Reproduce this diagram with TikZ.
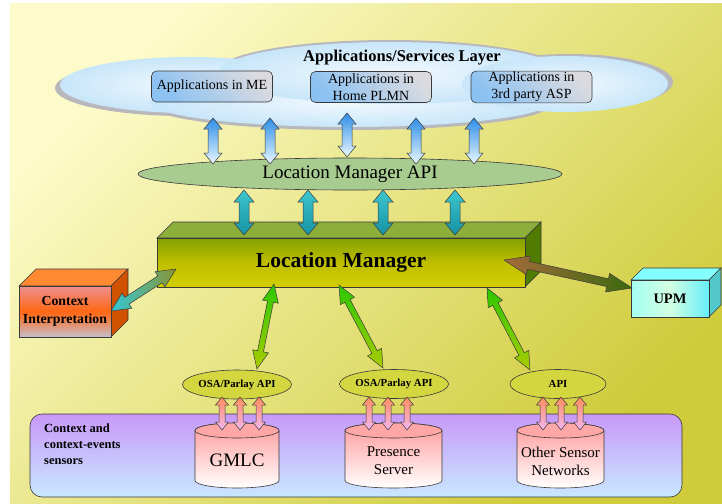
\documentclass[tikz,border=0pt]{standalone}
\usepackage{fontspec}
\setmainfont{Liberation Serif}
\usetikzlibrary{calc,shapes.geometric}

\definecolor{bgLight}{HTML}{FDFBC9}
\definecolor{bgDark}{HTML}{CFCB3A}
\definecolor{cloudIn}{HTML}{F2F9FE}
\definecolor{cloudOut}{HTML}{C8E6FA}
\definecolor{cloudGrey}{HTML}{B8B8BC}
\definecolor{appBlue}{HTML}{8CC2F2}
\definecolor{appGrey}{HTML}{DADADF}
\definecolor{lineDark}{HTML}{3A3A3A}
\definecolor{blueTop}{HTML}{2E8EE8}
\definecolor{blueBot}{HTML}{EAF8FF}
\definecolor{apiGreen}{HTML}{A8CB90}
\definecolor{tealTop}{HTML}{3EC6CE}
\definecolor{tealBot}{HTML}{1792A4}
\definecolor{lmTop}{HTML}{8CAE3A}
\definecolor{lmSide}{HTML}{507C02}
\definecolor{lmFrontT}{HTML}{82A000}
\definecolor{lmFrontM}{HTML}{C0BF00}
\definecolor{lmFrontB}{HTML}{D2CE00}
\definecolor{ciTop}{HTML}{FF8A32}
\definecolor{ciSide}{HTML}{D05200}
\definecolor{ciFrontT}{HTML}{EE9090}
\definecolor{ciFrontM}{HTML}{FF6612}
\definecolor{ciFrontB}{HTML}{C6BECA}
\definecolor{upmTop}{HTML}{84FFFF}
\definecolor{upmSide}{HTML}{52C8CA}
\definecolor{upmFrontL}{HTML}{A4FFF2}
\definecolor{upmFrontM}{HTML}{D2FFE2}
\definecolor{upmFrontR}{HTML}{66EEFA}
\definecolor{brownEnd}{HTML}{A46A3A}
\definecolor{oliveEnd}{HTML}{3C6A10}
\definecolor{ciArrowA}{HTML}{34C8D4}
\definecolor{ciArrowB}{HTML}{8A9434}
\definecolor{greenTop}{HTML}{2CC800}
\definecolor{greenBot}{HTML}{AACC00}
\definecolor{osaFill}{HTML}{D4D640}
\definecolor{panelTop}{HTML}{C898F8}
\definecolor{panelBot}{HTML}{C8E8FF}
\definecolor{drumTop}{HTML}{FF9A9A}
\definecolor{drumBot}{HTML}{FFFFFF}
\definecolor{drumCap}{HTML}{FFA6A6}
\definecolor{pinkTop}{HTML}{FF8E5C}
\definecolor{pinkBot}{HTML}{F2B6F2}

\newcommand\setfs[2]{\fontsize{#1}{#2}\selectfont}

% double-headed block arrow between two named points
% #1,#2 ends; #3 half shaft width; #4 half head width; #5 head length; #6 style
\newcommand\blockarrow[6]{%
  \path[#6] (#1)
    -- ($(#1)!#5!(#2)!#4!90:(#2)$)
    -- ($(#1)!#5!(#2)!#3!90:(#2)$)
    -- ($(#2)!#5!(#1)!#3!-90:(#1)$)
    -- ($(#2)!#5!(#1)!#4!-90:(#1)$)
    -- (#2)
    -- ($(#2)!#5!(#1)!#4!90:(#1)$)
    -- ($(#2)!#5!(#1)!#3!90:(#1)$)
    -- ($(#1)!#5!(#2)!#3!-90:(#2)$)
    -- ($(#1)!#5!(#2)!#4!-90:(#2)$)
    -- cycle;}

% database drum: #1 centre x, #2 x radius
\newcommand\drum[2]{%
  \path[draw=lineDark, line width=0.6pt, top color=drumTop, bottom color=drumBot]
    ({#1-#2},430.5) -- ({#1-#2},480.5)
    arc[start angle=180, end angle=0, x radius=#2, y radius=7.5]
    -- ({#1+#2},430.5)
    arc[start angle=360, end angle=180, x radius=#2, y radius=7.5] -- cycle;
  \path[draw=lineDark, line width=0.6pt, fill=drumCap]
    (#1,430.5) ellipse[x radius=#2, y radius=7.5];}

\tikzset{
  cloudshadow/.style={fill=cloudGrey},
  cloudpart/.style={inner color=cloudIn, outer color=cloudOut},
  appbox/.style={draw=lineDark, line width=0.6pt, rounded corners=5pt,
    top color=appGrey, bottom color=appBlue, shading angle=-45,
    minimum width=121pt, minimum height=31pt, inner sep=1pt, align=center,
    font=\setfs{14}{17}},
  bluearrow/.style={draw=lineDark, line width=0.5pt, top color=blueTop, bottom color=blueBot},
  tealarrow/.style={draw=lineDark, line width=0.5pt, top color=tealTop, bottom color=tealBot},
  greenarrow/.style={draw=lineDark, line width=0.5pt, top color=greenTop, bottom color=greenBot},
  pinkarrow/.style={draw=lineDark, line width=0.5pt, top color=pinkTop, bottom color=pinkBot},
  facet/.style={draw=lineDark, line width=0.6pt},
  osa/.style={ellipse, draw=lineDark, line width=0.6pt, fill=osaFill,
    minimum width=96pt, minimum height=29pt, inner sep=0pt,
    font=\bfseries\setfs{10.8}{12}},
}

\begin{document}
\begin{tikzpicture}[x=1pt,y=-1pt]
\useasboundingbox (0,0) rectangle (722,503);

% backdrop
\path[top color=bgLight, bottom color=bgDark, shading angle=45] (10,4) rectangle (722,503);

% applications/services cloud
\path[cloudshadow] (185,88) ellipse[x radius=130, y radius=28];
\path[cloudshadow] (570,82) ellipse[x radius=103, y radius=28];
\path[cloudshadow] (390,71) ellipse[x radius=172, y radius=31];
\path[cloudshadow] (350,105) ellipse[x radius=200, y radius=25];
\path[cloudpart] (190,85) ellipse[x radius=130, y radius=28];
\path[cloudpart] (350,102) ellipse[x radius=200, y radius=25];
\path[cloudpart] (390,73) ellipse[x radius=172, y radius=31];
\path[cloudpart] (565,84) ellipse[x radius=103, y radius=28];

\node[font=\bfseries\setfs{16.5}{19}] (layer) at (402,58) {Applications/Services Layer};
\node[appbox] (appME) at (212,86.5) {Applications in ME};
\node[appbox] (appHome) at (371,87) {Applications in\\Home PLMN};
\node[appbox] (appASP) at (531.5,87) {Applications in\\3rd party ASP};

% location manager API
\node[ellipse, draw=lineDark, line width=0.6pt, fill=apiGreen, minimum width=424pt,
  minimum height=32pt, inner sep=0pt, font=\setfs{19}{21}] (lmapi) at (350,174) {Location Manager API};

\foreach \i/\x/\t/\b in {1/213/118/164, 2/270/118/164, 3/347/113/157, 4/416/118/164, 5/474/118/164}{
  \coordinate (cu\i) at (\x,\t);
  \coordinate (cl\i) at (\x,\b);
  \blockarrow{cu\i}{cl\i}{5pt}{9pt}{11pt}{bluearrow}
}

% location manager block
\path[facet, fill=lmTop] (157,238) -- (173,222) -- (541,222) -- (525,238) -- cycle;
\path[facet, fill=lmSide] (525,238) -- (541,222) -- (541,271) -- (525,287) -- cycle;
\node[facet, top color=lmFrontT, bottom color=lmFrontB, middle color=lmFrontM,
  minimum width=368pt, minimum height=49pt, inner sep=0pt,
  font=\bfseries\setfs{21.5}{23}] (lm) at (341,262.5) {Location Manager};

\foreach \i/\x in {1/244, 2/308, 3/383, 4/455}{
  \coordinate (au\i) at (\x,190);
  \coordinate (al\i) at (\x,235);
  \blockarrow{au\i}{al\i}{5pt}{10pt}{12pt}{tealarrow}
}

% context interpretation block
\path[facet, fill=ciTop] (19,286) -- (36,269) -- (128,269) -- (111,286) -- cycle;
\path[facet, fill=ciSide] (111,286) -- (128,269) -- (128,320) -- (111,337) -- cycle;
\node[facet, top color=ciFrontT, bottom color=ciFrontB, middle color=ciFrontM,
  minimum width=92pt, minimum height=51pt, inner sep=0pt, align=center,
  font=\bfseries\setfs{13.8}{18}] (ci) at (65,311.5) {Context\\Interpretation};

% UPM block
\path[facet, fill=upmTop] (631,280) -- (643,268) -- (721,268) -- (709,280) -- cycle;
\path[facet, fill=upmSide] (709,280) -- (721,268) -- (721,305) -- (709,317) -- cycle;
\node[facet, left color=upmFrontL, right color=upmFrontR, middle color=upmFrontM,
  minimum width=78pt, minimum height=37pt, inner sep=0pt,
  font=\bfseries\setfs{14.5}{16}] (upm) at (670,298.5) {UPM};

% side links
\coordinate (lmCi) at (176,269);
\coordinate (ciLm) at (111,311);
\blockarrow{ciLm}{lmCi}{4pt}{9pt}{19pt}{draw=lineDark, line width=0.5pt, left color=ciArrowA, right color=ciArrowB}
\coordinate (lmUpm) at (504,260);
\coordinate (upmLm) at (632,288);
\blockarrow{lmUpm}{upmLm}{4pt}{9.5pt}{25pt}{draw=lineDark, line width=0.5pt, left color=brownEnd, right color=oliveEnd}

% sensors panel
\path[draw=lineDark, line width=0.6pt, rounded corners=12pt, top color=panelTop, bottom color=panelBot]
  (30,414) rectangle (682,497);
\node[anchor=north west, align=left, inner sep=0pt, font=\bfseries\setfs{12.5}{16}] (sensors)
  at (44,424) {Context and\\context-events\\sensors};

% API ellipses
\node[osa] (osa1) at (237,384.5) {OSA/Parlay API};
\node[osa] (osa2) at (394,384) {OSA/Parlay API};
\node[osa] (api3) at (558,384) {API};

% green links
\coordinate (g1t) at (274,284); \coordinate (g1b) at (257,369);
\coordinate (g2t) at (339,285); \coordinate (g2b) at (383,368);
\coordinate (g3t) at (487,288); \coordinate (g3b) at (530,370);
\blockarrow{g1t}{g1b}{3pt}{8pt}{18pt}{greenarrow}
\blockarrow{g2t}{g2b}{3pt}{8pt}{18pt}{greenarrow}
\blockarrow{g3t}{g3b}{3pt}{8pt}{18pt}{greenarrow}

% sensor drums
\drum{237}{42}
\drum{393.5}{48.5}
\drum{560.5}{43.5}
\node[font=\setfs{19}{21}] (gmlc) at (237,460) {GMLC};
\node[align=center, font=\setfs{15}{18}] (pres) at (393.5,461) {Presence\\Server};
\node[align=center, font=\setfs{15}{18}] (other) at (560.5,461) {Other Sensor\\Networks};

\foreach \i/\x in {1/222, 2/240, 3/259, 4/369, 5/388, 6/407, 7/543, 8/561, 9/580}{
  \coordinate (pu\i) at (\x,397);
  \coordinate (pl\i) at (\x,430);
  \blockarrow{pu\i}{pl\i}{3pt}{6.5pt}{8pt}{pinkarrow}
}
\end{tikzpicture}
\end{document}
